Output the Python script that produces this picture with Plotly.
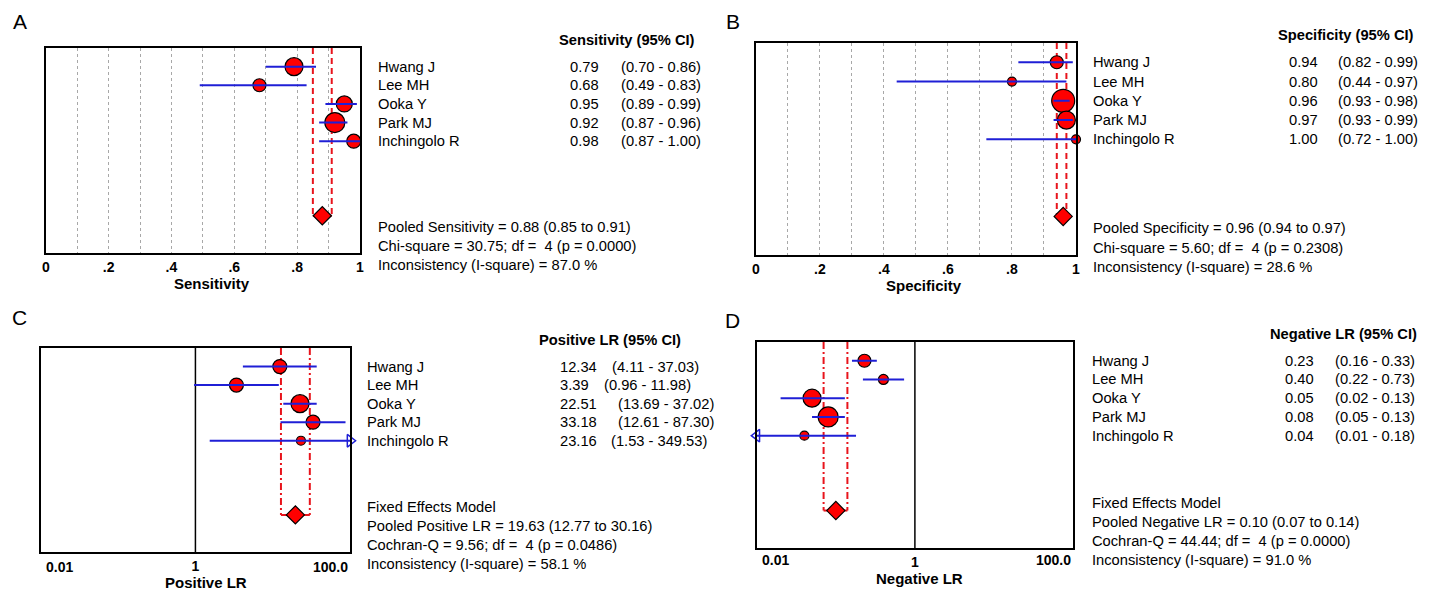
import plotly.graph_objects as go

# ---------------- data ----------------
studies = ["Hwang J", "Lee MH", "Ooka Y", "Park MJ", "Inchingolo R"]

sens = [0.79, 0.68, 0.95, 0.92, 0.98]
sens_lo = [0.70, 0.49, 0.89, 0.87, 0.87]
sens_hi = [0.86, 0.83, 0.99, 0.96, 1.00]
sens_pooled = [0.88, 0.85, 0.91]
sens_stats = ["Pooled Sensitivity = 0.88 (0.85 to 0.91)",
              "Chi-square = 30.75; df =  4 (p = 0.0000)",
              "Inconsistency (I-square) = 87.0 %"]

spec = [0.94, 0.80, 0.96, 0.97, 1.00]
spec_lo = [0.82, 0.44, 0.93, 0.93, 0.72]
spec_hi = [0.99, 0.97, 0.98, 0.99, 1.00]
spec_pooled = [0.96, 0.94, 0.97]
spec_stats = ["Pooled Specificity = 0.96 (0.94 to 0.97)",
              "Chi-square = 5.60; df =  4 (p = 0.2308)",
              "Inconsistency (I-square) = 28.6 %"]

plr = [12.34, 3.39, 22.51, 33.18, 23.16]
plr_lo = [4.11, 0.96, 13.69, 12.61, 1.53]
plr_hi = [37.03, 11.98, 37.02, 87.30, 349.53]
plr_pooled = [19.63, 12.77, 30.16]
plr_stats = ["Fixed Effects Model",
             "Pooled Positive LR = 19.63 (12.77 to 30.16)",
             "Cochran-Q = 9.56; df =  4 (p = 0.0486)",
             "Inconsistency (I-square) = 58.1 %"]

nlr = [0.23, 0.40, 0.05, 0.08, 0.04]
nlr_lo = [0.16, 0.22, 0.02, 0.05, 0.01]
nlr_hi = [0.33, 0.73, 0.13, 0.13, 0.18]
nlr_pooled = [0.10, 0.07, 0.14]
nlr_stats = ["Fixed Effects Model",
             "Pooled Negative LR = 0.10 (0.07 to 0.14)",
             "Cochran-Q = 44.44; df =  4 (p = 0.0000)",
             "Inconsistency (I-square) = 91.0 %"]

prop_ticks = [0, 0.2, 0.4, 0.6, 0.8, 1]
prop_ticktext = ["0", ".2", ".4", ".6", ".8", "1"]
prop_minor = [0.1, 0.3, 0.5, 0.7, 0.9]

# ---------------- layout helpers ----------------
W, H = 1437, 591
FONT = "Liberation Sans, Arial, sans-serif"
RED = "#e8141c"
BLUE = "#1f1fd6"


def pxx(x):
    return x / W


def pyy(y):
    return 1 - y / H


panels = [
    dict(letter="A", letter_xy=(16, 22), est=sens, lo=sens_lo, hi=sens_hi, pooled=sens_pooled,
         stats=sens_stats, log=False, rng=(0, 1), box_x=(42, 358), box_y=(48, 253),
         sizes=[18, 13, 16, 20, 14], dash="6px,4px", header="Sensitivity (95% CI)",
         title="Sensitivity", title_xy=(209, 283), tick_y=267,
         name_x=374, val_x=600, val_anchor="right", ci_x=[618] * 5, head_x=697,
         stat_rows=[9.62, 10.64, 11.64]),
    dict(letter="B", letter_xy=(733, 22), est=spec, lo=spec_lo, hi=spec_hi, pooled=spec_pooled,
         stats=spec_stats, log=False, rng=(0, 1), box_x=(756, 1078), box_y=(43, 255),
         sizes=[13, 9, 23, 18, 9], dash="6px,4px", header="Specificity (95% CI)",
         title="Specificity", title_xy=(925, 285), tick_y=267,
         name_x=1093, val_x=1323, val_anchor="right", ci_x=[1339] * 5, head_x=1420,
         stat_rows=[9.62, 10.64, 11.64]),
    dict(letter="C", letter_xy=(16, 318), est=plr, lo=plr_lo, hi=plr_hi, pooled=plr_pooled,
         stats=plr_stats, log=True, rng=(0.01, 100), box_x=(37, 348), box_y=(348, 552),
         sizes=[14, 14, 18, 14, 9], dash="7px,3px,2px,3px", header="Positive LR (95% CI)",
         title="Positive LR", title_xy=(203, 582), tick_y=567,
         name_x=363, val_x=557, val_anchor="left", ci_x=[609, 601, 615, 615, 608], head_x=683,
         stat_rows=[8.6, 9.62, 10.64, 11.64]),
    dict(letter="D", letter_xy=(733, 320), est=nlr, lo=nlr_lo, hi=nlr_hi, pooled=nlr_pooled,
         stats=nlr_stats, log=True, rng=(0.01, 100), box_x=(757, 1075), box_y=(342, 548),
         sizes=[13, 10, 18, 20, 9], dash="7px,3px,2px,3px", header="Negative LR (95% CI)",
         title="Negative LR", title_xy=(921, 578), tick_y=560,
         name_x=1092, val_x=1319, val_anchor="right", ci_x=[1336] * 5, head_x=1423,
         stat_rows=[8.6, 9.62, 10.64, 11.64]),
]

rows = [1, 2, 3, 4, 5]
POOL_Y = 9
YMAX = 11

fig = go.Figure()
annotations = []
layout_axes = {}

for i, p in enumerate(panels):
    n = "" if i == 0 else str(i + 1)
    xa, ya = "x" + n, "y" + n
    lo_r, hi_r = p["rng"]

    # pooled CI bracket (dashed verticals + solid bottom)
    pl, plo, phi = p["pooled"]
    fig.add_trace(go.Scatter(x=[plo, plo, None, phi, phi], y=[0, POOL_Y, None, 0, POOL_Y],
                             mode="lines", line=dict(color=RED, width=2, dash=p["dash"]),
                             xaxis=xa, yaxis=ya, showlegend=False, hoverinfo="skip"))
    fig.add_trace(go.Scatter(x=[plo, phi], y=[POOL_Y, POOL_Y], mode="lines",
                             line=dict(color=RED, width=2), xaxis=xa, yaxis=ya,
                             showlegend=False, hoverinfo="skip"))
    if p["log"]:
        fig.add_trace(go.Scatter(x=[1, 1], y=[0, YMAX], mode="lines",
                                 line=dict(color="black", width=1.5), xaxis=xa, yaxis=ya,
                                 showlegend=False, hoverinfo="skip"))

    # study markers
    fig.add_trace(go.Scatter(x=p["est"], y=rows, mode="markers",
                             marker=dict(symbol="circle", size=p["sizes"], color="#ff0000",
                                         opacity=1, line=dict(color="black", width=1.2)),
                             xaxis=xa, yaxis=ya, cliponaxis=False, showlegend=False))

    # CI bars (clipped to axis range) + arrows
    bx, by = [], []
    ax_l, ay_l, ax_r, ay_r = [], [], [], []
    for r, l, h in zip(rows, p["lo"], p["hi"]):
        lc, hc = max(l, lo_r), min(h, hi_r)
        bx += [lc, hc, None]
        by += [r, r, None]
        if p["log"] and l <= lo_r:
            ax_l.append(lo_r)
            ay_l.append(r)
        if p["log"] and h >= hi_r:
            ax_r.append(hi_r)
            ay_r.append(r)
    fig.add_trace(go.Scatter(x=bx, y=by, mode="lines", line=dict(color=BLUE, width=2),
                             xaxis=xa, yaxis=ya, showlegend=False, hoverinfo="skip"))
    if ax_l:
        fig.add_trace(go.Scatter(x=ax_l, y=ay_l, mode="markers",
                                 marker=dict(symbol="triangle-left-open", size=11, opacity=1,
                                             color=BLUE, line=dict(width=1.5, color=BLUE)),
                                 xaxis=xa, yaxis=ya, cliponaxis=False, showlegend=False))
    if ax_r:
        fig.add_trace(go.Scatter(x=ax_r, y=ay_r, mode="markers",
                                 marker=dict(symbol="triangle-right-open", size=11, opacity=1,
                                             color=BLUE, line=dict(width=1.5, color=BLUE)),
                                 xaxis=xa, yaxis=ya, cliponaxis=False, showlegend=False))

    # pooled diamond
    fig.add_trace(go.Scatter(x=[pl], y=[POOL_Y], mode="markers",
                             marker=dict(symbol="diamond", size=14, color="#ff0000", opacity=1,
                                         line=dict(color="black", width=1.2)),
                             xaxis=xa, yaxis=ya, cliponaxis=False, showlegend=False))

    # axes
    xdom = [pxx(p["box_x"][0]), pxx(p["box_x"][1])]
    ydom = [pyy(p["box_y"][1]), pyy(p["box_y"][0])]
    xax = dict(domain=xdom, anchor=ya, showline=True, mirror=True, linecolor="black",
               linewidth=2, ticks="", zeroline=False, fixedrange=True,
               tickfont=dict(family=FONT, size=14, color="black", weight="bold"))
    if p["log"]:
        xax.update(type="log", range=[-2, 2], tickmode="array", tickvals=[1],
                   ticktext=["1"], showgrid=False)
    else:
        xax.update(range=[0, 1], tickmode="array", tickvals=prop_ticks,
                   ticktext=prop_ticktext, showgrid=True, gridcolor="#a8a8a8",
                   griddash="3px,3px", gridwidth=1,
                   minor=dict(tickmode="array", tickvals=prop_minor, showgrid=True,
                              gridcolor="#a8a8a8", griddash="3px,3px", gridwidth=1))
    yax = dict(domain=ydom, anchor=xa, range=[YMAX, 0], showline=True, mirror=True,
               linecolor="black", linewidth=2, showticklabels=False, ticks="",
               showgrid=False, zeroline=False, fixedrange=True)
    layout_axes["xaxis" + n] = xax
    layout_axes["yaxis" + n] = yax

    if p["log"]:
        annotations.append(dict(text="<b>0.01</b>", xref=xa + " domain", x=0, xanchor="left",
                                xshift=3, yref="paper", y=pyy(p["tick_y"]), yanchor="middle",
                                showarrow=False,
                                font=dict(family=FONT, size=14, color="black")))
        annotations.append(dict(text="<b>100.0</b>", xref=xa + " domain", x=1, xanchor="right",
                                yref="paper", y=pyy(p["tick_y"]), yanchor="middle",
                                showarrow=False,
                                font=dict(family=FONT, size=14, color="black")))

    tfont = dict(family=FONT, size=14.7, color="black")
    # letter
    annotations.append(dict(text=p["letter"], xref="paper", yref="paper",
                            x=pxx(p["letter_xy"][0]), y=pyy(p["letter_xy"][1]),
                            xanchor="center", yanchor="middle", showarrow=False,
                            font=dict(family=FONT, size=21, color="black")))
    # axis title
    annotations.append(dict(text="<b>" + p["title"] + "</b>", xref="paper", yref="paper",
                            x=pxx(p["title_xy"][0]), y=pyy(p["title_xy"][1]),
                            xanchor="center", yanchor="middle", showarrow=False,
                            font=dict(family=FONT, size=15, color="black")))
    # header
    annotations.append(dict(text="<b>" + p["header"] + "</b>", xref="paper", yref=ya + " domain",
                            x=pxx(p["head_x"]), y=1 - (-0.42) / YMAX, xanchor="right",
                            yanchor="middle", showarrow=False, font=tfont))
    # study rows
    for r, name, e, l, h, cx in zip(rows, studies, p["est"], p["lo"], p["hi"], p["ci_x"]):
        yd = 1 - r / YMAX
        annotations.append(dict(text=name, xref="paper", yref=ya + " domain",
                                x=pxx(p["name_x"]), y=yd, xanchor="left", yanchor="middle",
                                showarrow=False, font=tfont))
        annotations.append(dict(text=f"{e:.2f}", xref="paper", yref=ya + " domain",
                                x=pxx(p["val_x"]), y=yd, xanchor=p["val_anchor"],
                                yanchor="middle", showarrow=False, font=tfont))
        annotations.append(dict(text=f"({l:.2f} - {h:.2f})", xref="paper", yref=ya + " domain",
                                x=pxx(cx), y=yd, xanchor="left", yanchor="middle",
                                showarrow=False, font=tfont))
    # stats lines
    for r, s in zip(p["stat_rows"], p["stats"]):
        annotations.append(dict(text=s, xref="paper", yref=ya + " domain",
                                x=pxx(p["name_x"]), y=1 - r / YMAX, xanchor="left",
                                yanchor="middle", showarrow=False, font=tfont))

fig.update_layout(width=W, height=H, margin=dict(l=0, r=0, t=0, b=0),
                  paper_bgcolor="white", plot_bgcolor="white", showlegend=False,
                  font=dict(family=FONT, color="black"), annotations=annotations,
                  **layout_axes)

fig.write_html("out.html")
